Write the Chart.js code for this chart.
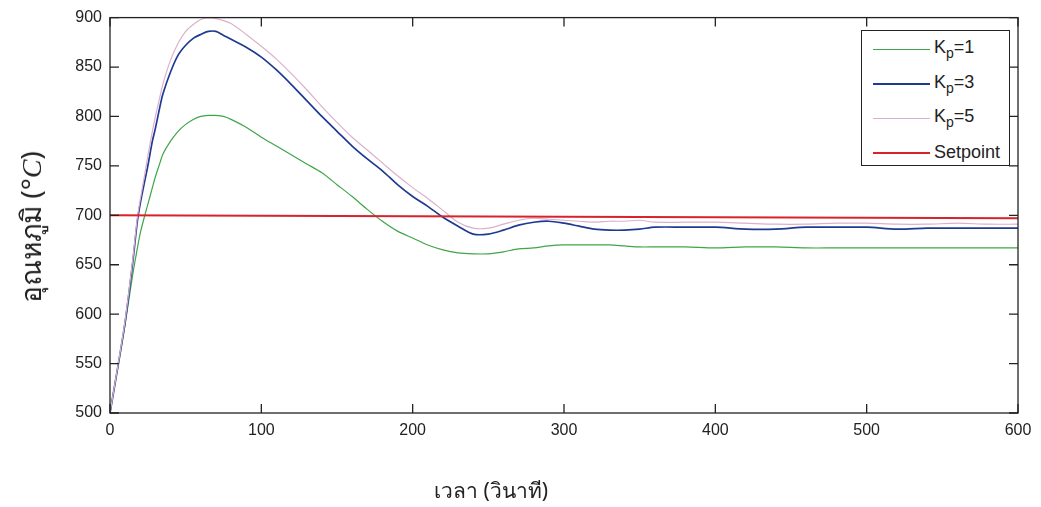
<!DOCTYPE html>
<html>
<head>
<meta charset="utf-8">
<script src="https://cdn.jsdelivr.net/npm/chart.js@4/dist/chart.umd.min.js"></script>
<style>
  body { margin: 0; background: #fff; }
  #wrap { position: relative; width: 1041px; height: 507px; font-family: "Liberation Sans", Arial, sans-serif; }
  #legend { position: absolute; left: 861px; top: 30px; width: 149px; height: 136px; border: 1px solid #222; background: #fff; padding-top: 1px; box-sizing: border-box; }
  .row { height: 34.5px; display: flex; align-items: center; }
  .row span.ln { display: inline-block; width: 57px; margin-left: 11px; margin-right: 4px; }
  .row span.tx { font-size: 18px; color: #222; }
  .row sub { font-size: 14px; }
  #ytitle { position: absolute; left: 31px; top: 227px; transform: translate(-50%, -50%) rotate(-90deg); white-space: nowrap; font-size: 28px; color: #222; font-family: "Noto Sans", "DejaVu Sans", sans-serif; }
  #ytitle i { font-family: "Liberation Serif", serif; }
  #xtitle { position: absolute; left: 491px; top: 490px; transform: translate(-50%, -50%); white-space: nowrap; font-size: 21px; color: #222; font-family: "Noto Sans", "DejaVu Sans", sans-serif; }
</style>
</head>
<body>
<div id="wrap">
  <canvas id="chart" width="1041" height="507"></canvas>
  <div id="legend"></div>
  <div id="ytitle">อุณหภูมิ (°<i>C</i>)</div>
  <div id="xtitle">เวลา (วินาที)</div>
</div>
<script>
// time (s)
const time = [0, 5, 10, 15, 18, 20, 23, 25, 28, 30, 33, 35, 40, 45, 50, 55, 60, 65, 70, 75, 80, 90,
  100, 110, 120, 130, 140, 150, 160, 170, 180, 190, 200, 210, 220, 230, 240, 250, 260, 270, 280, 290,
  300, 310, 320, 330, 340, 350, 360, 380, 400, 420, 440, 460, 480, 500, 520, 540, 560, 580, 600];

const kp1 = [500, 545, 590, 640, 666, 682, 700, 711, 728, 739, 753, 762, 775, 785, 792, 797, 800, 801, 801, 800, 797, 789,
  779, 770, 761, 752, 743, 731, 719, 706, 694, 684, 677, 670, 665, 662, 661, 661, 663, 666, 667, 669,
  670, 670, 670, 670, 669, 668, 668, 668, 667, 668, 668, 667, 667, 667, 667, 667, 667, 667, 667];

const kp3 = [500, 545, 592, 652, 693, 712, 735, 750, 775, 788, 810, 823, 845, 862, 872, 879, 883, 886, 886, 882, 878, 870,
  860, 847, 832, 816, 800, 785, 770, 757, 745, 731, 719, 709, 698, 689, 681, 681, 685, 690, 693, 694,
  692, 689, 686, 685, 685, 686, 688, 688, 688, 686, 686, 688, 688, 688, 686, 687, 687, 687, 687];

const kp5 = [500, 546, 594, 655, 697, 716, 742, 760, 785, 800, 820, 833, 857, 874, 886, 893, 898, 900, 899, 897, 894, 883,
  871, 858, 843, 827, 810, 794, 779, 766, 753, 740, 728, 717, 705, 693, 687, 687, 691, 695, 697, 696,
  695, 694, 693, 694, 694, 695, 693, 693, 693, 692, 691, 691, 692, 692, 691, 691, 692, 691, 691];

const spTime = [0, 600];
const setpoint = [700, 697];

const labels = ['K<sub>p</sub>=1', 'K<sub>p</sub>=3', 'K<sub>p</sub>=5', 'Setpoint'];
const colors = ['#3fa548', '#1f3a92', '#dcb0cc', '#d8232c'];
const widths = [1.2, 1.7, 1.2, 2];

const xTicks = [0, 100, 200, 300, 400, 500, 600];
const yTicks = [500, 550, 600, 650, 700, 750, 800, 850, 900];

const pts = (xs, ys) => xs.map((t, i) => ({x: t, y: ys[i]}));
const series = [pts(time, kp1), pts(time, kp3), pts(time, kp5), pts(spTime, setpoint)];

// html legend with subscripts
const legend = document.getElementById('legend');
labels.forEach((l, i) => {
  const row = document.createElement('div');
  row.className = 'row';
  row.innerHTML = `<span class="ln" style="border-top:${widths[i] > 1.5 ? 2 : 1}px solid ${colors[i]}"></span><span class="tx">${l}</span>`;
  legend.appendChild(row);
});

// axes box with inward ticks (matlab style)
const boxTicks = {
  id: 'boxTicks',
  afterDatasetsDraw(chart) {
    const {ctx, chartArea: a, scales: {x, y}} = chart;
    ctx.save();
    ctx.strokeStyle = '#222';
    ctx.lineWidth = 1.3;
    ctx.strokeRect(a.left, a.top, a.right - a.left, a.bottom - a.top);
    ctx.beginPath();
    x.ticks.forEach(t => {
      const px = x.getPixelForValue(t.value);
      ctx.moveTo(px, a.bottom); ctx.lineTo(px, a.bottom - 9);
      ctx.moveTo(px, a.top); ctx.lineTo(px, a.top + 9);
    });
    y.ticks.forEach(t => {
      const py = y.getPixelForValue(t.value);
      ctx.moveTo(a.left, py); ctx.lineTo(a.left + 9, py);
      ctx.moveTo(a.right, py); ctx.lineTo(a.right - 9, py);
    });
    ctx.stroke();
    ctx.restore();
  }
};

new Chart(document.getElementById('chart'), {
  type: 'line',
  data: {
    datasets: series.map((d, i) => ({
      label: labels[i],
      data: d,
      borderColor: colors[i],
      borderWidth: widths[i],
      pointRadius: 0,
      tension: 0.3,
      order: 3 - i
    }))
  },
  options: {
    responsive: false,
    animation: false,
    devicePixelRatio: 1,
    layout: { padding: { top: 17, right: 23, left: 0, bottom: 0 } },
    plugins: { legend: { display: false }, tooltip: { enabled: false } },
    scales: {
      x: {
        type: 'linear', min: 0, max: 600,
        afterBuildTicks: s => { s.ticks = xTicks.map(v => ({value: v})); },
        afterFit: s => { s.height = 94; },
        grid: { display: false, drawTicks: false },
        border: { display: false },
        ticks: { padding: 8, color: '#222', font: { family: 'Liberation Sans', size: 16 } }
      },
      y: {
        min: 500, max: 900,
        afterBuildTicks: s => { s.ticks = yTicks.map(v => ({value: v})); },
        afterFit: s => { s.width = 110; },
        grid: { display: false, drawTicks: false },
        border: { display: false },
        ticks: { padding: 8, color: '#222', font: { family: 'Liberation Sans', size: 16 } }
      }
    }
  },
  plugins: [boxTicks]
});
</script>
</body>
</html>
